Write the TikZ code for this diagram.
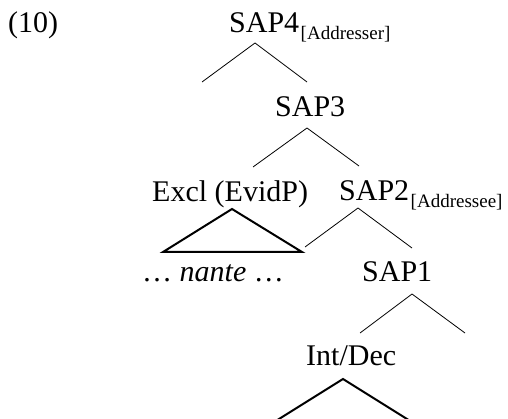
\documentclass[tikz,border=0pt]{standalone}
\usepackage{fontspec}
\setmainfont{Liberation Serif}
\newcommand{\labelsub}[1]{\kern1.5pt\raisebox{-7pt}{\fontsize{19}{20}\selectfont #1}}
\begin{document}
\begin{tikzpicture}[x=1pt,y=-1pt,
  lbl/.style={anchor=base west,inner sep=0pt,font=\fontsize{30}{32}\selectfont},
  branch/.style={line width=0.8pt},
  roof/.style={line width=2pt,line join=miter}]
\useasboundingbox (0,0) rectangle (508,419);
\clip (0,0) rectangle (508,419);

% labels
\node[lbl] (ex)     at (8,33)    {(10)};
\node[lbl] (sap4)   at (229,33)  {SAP4\labelsub{[Addresser]}};
\node[lbl] (sap3)   at (275,117) {SAP3};
\node[lbl] (excl)   at (152,202) {Excl (EvidP)};
\node[lbl] (sap2)   at (339,201) {SAP2\labelsub{[Addressee]}};
\node[lbl] (nante)  at (142,282) {\dots\ \textit{nante} \dots};
\node[lbl] (sap1)   at (362,282) {SAP1};
\node[lbl] (intdec) at (306,365) {Int/Dec};

% branch points
\coordinate (t4) at (255,43);  \coordinate (l4) at (202,82);  \coordinate (r4) at (307,82);
\coordinate (t3) at (307,128); \coordinate (l3) at (253,167); \coordinate (r3) at (359,166);
\coordinate (te) at (232,209); \coordinate (le) at (163,252); \coordinate (re) at (302,252);
\coordinate (t2) at (358,208); \coordinate (l2) at (305,247); \coordinate (r2) at (412,248);
\coordinate (t1) at (412,294); \coordinate (l1) at (360,333); \coordinate (r1) at (465,333);
\coordinate (ti) at (343,379); \coordinate (li) at (263,429); \coordinate (ri) at (423,429);

% branches
\draw[branch] (l4) -- (t4) -- (r4);
\draw[branch] (l3) -- (t3) -- (r3);
\draw[branch] (l2) -- (t2) -- (r2);
\draw[branch] (l1) -- (t1) -- (r1);

% triangles
\draw[roof] (le) -- (te) -- (re) -- cycle;
\draw[roof] (li) -- (ti) -- (ri);
\end{tikzpicture}
\end{document}
